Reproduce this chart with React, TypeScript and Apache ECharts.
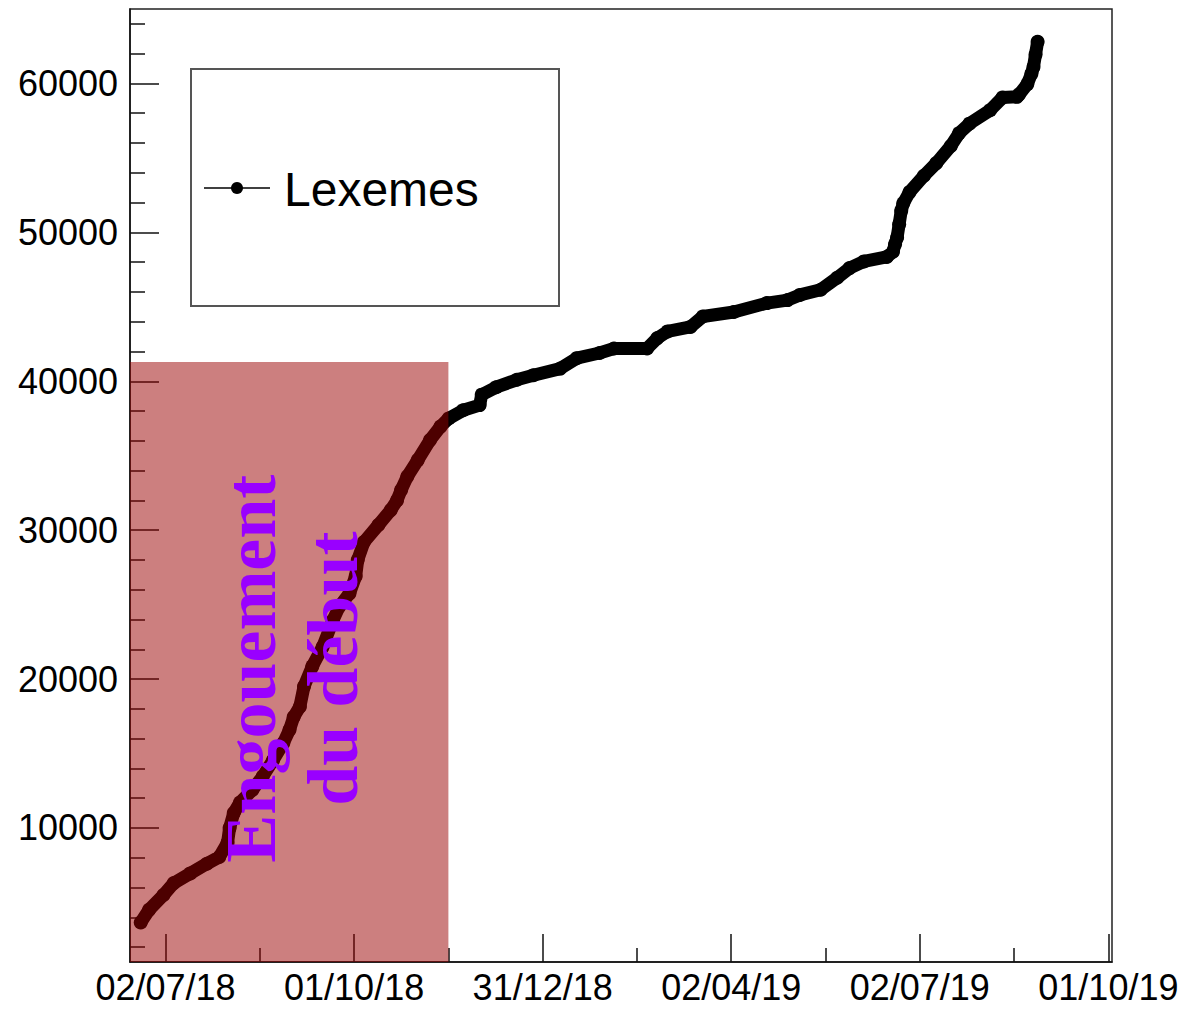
import React, { useEffect, useRef } from "react";
import * as echarts from "echarts";

// x values are days counted from 02/07/18
const dayOffsets = [
  -12, -8, -1, 4, 12, 20, 26, 30, 31, 33, 36, 42, 47, 52, 57, 60, 62, 65, 67, 71,
  76, 81, 84, 89, 92, 93, 96, 103, 109, 112, 114, 117, 122, 128, 133, 137, 144, 152, 153, 160,
  170, 178, 191, 199, 210, 217, 233, 238, 243, 254, 260, 275, 291, 301, 307, 317, 325, 331, 338, 349,
  352, 353, 354, 355, 356, 357, 360, 367, 373, 380, 384, 389, 399, 405, 412, 413, 417, 419, 420, 421, 422,
];
const lexemes = [
  3650, 4500, 5500, 6300, 6950, 7600, 8050, 9000, 10000, 11000, 11700, 12550, 13450, 14550, 15700, 16600, 17450, 18150, 19500, 20850,
  22150, 23950, 24850, 25750, 26900, 28000, 29200, 30350, 31350, 32000, 32700, 33600, 34700, 36050, 36950, 37500, 38050, 38400, 39100, 39600,
  40100, 40400, 40850, 41550, 41900, 42200, 42200, 42900, 43350, 43650, 44350, 44650, 45250, 45450, 45800, 46150, 46950, 47600, 48050, 48350,
  48700, 49200, 49650, 50550, 51450, 51950, 52700, 53800, 54650, 55800, 56650, 57300, 58200, 59050, 59100, 59250, 59950, 60650, 61100, 61950, 62800,
];

const xTickLabels = ["02/07/18", "01/10/18", "31/12/18", "02/04/19", "02/07/19", "01/10/19"];
const xMajorTicks = [0, 91.25, 182.5, 273.75, 365, 456.25];
const xMinorTicks = [45.625, 136.875, 228.125, 319.375, 410.625];
const yMajorTicks = [10000, 20000, 30000, 40000, 50000, 60000];
const yMinorTicks = [
  2000, 4000, 6000, 8000, 12000, 14000, 16000, 18000, 22000, 24000, 26000, 28000, 32000, 34000, 36000, 38000,
  42000, 44000, 46000, 48000, 52000, 54000, 56000, 58000, 62000, 64000,
];

const xMin = -17.2;
const xMax = 458;
const yMin = 1000;
const yMax = 65000;

// shaded period "Engouement du début"
const shadeFromDay = -17.2;
const shadeToDay = 136.875;
const shadeTop = 41300;
const annotationText = "Engouement\ndu début";
const annotationDay = 61.2;
const annotationValue = 20700;

const seriesName = "Lexemes";

export default function App() {
  const ref = useRef<HTMLDivElement>(null);
  useEffect(() => {
    if (!ref.current) return;
    const chart = echarts.init(ref.current, undefined, { renderer: "svg" });
    const axisColor = "#111";
    const font = "Liberation Sans";
    const baseX = {
      type: "value",
      min: xMin,
      max: xMax,
      position: "bottom",
      splitLine: { show: false },
    };
    const baseY = {
      type: "value",
      min: yMin,
      max: yMax,
      position: "left",
      splitLine: { show: false },
    };
    const option: any = {
      animation: false,
      backgroundColor: "#fff",
      grid: {
        left: 130,
        right: 71,
        top: 9,
        bottom: 50,
        show: true,
        borderColor: "#222",
        borderWidth: 1.5,
        backgroundColor: "transparent",
      },
      xAxis: [
        {
          ...baseX,
          axisLine: { onZero: false, lineStyle: { color: axisColor, width: 1.5 } },
          axisTick: { show: true, inside: true, length: 28, customValues: xMajorTicks, lineStyle: { color: axisColor, width: 1.5 } },
          axisLabel: {
            customValues: xMajorTicks,
            fontSize: 36,
            fontFamily: font,
            color: "#000",
            margin: 7,
            formatter: (v: number) => {
              const i = xMajorTicks.findIndex((m) => Math.abs(m - v) < 1e-6);
              return i >= 0 ? xTickLabels[i] : "";
            },
          },
        },
        {
          ...baseX,
          axisLine: { show: false, onZero: false },
          axisTick: { show: true, inside: true, length: 14, customValues: xMinorTicks, lineStyle: { color: axisColor, width: 1.5 } },
          axisLabel: { show: false },
        },
      ],
      yAxis: [
        {
          ...baseY,
          axisLine: { show: true, onZero: false, lineStyle: { color: axisColor, width: 1.5 } },
          axisTick: { show: true, inside: true, length: 29, customValues: yMajorTicks, lineStyle: { color: axisColor, width: 1.5 } },
          axisLabel: {
            customValues: yMajorTicks,
            fontSize: 36,
            fontFamily: font,
            color: "#000",
            margin: 12,
            formatter: (v: number) => String(Math.round(v)),
          },
        },
        {
          ...baseY,
          axisLine: { show: false, onZero: false },
          axisTick: { show: true, inside: true, length: 15, customValues: yMinorTicks, lineStyle: { color: axisColor, width: 1.5 } },
          axisLabel: { show: false },
        },
      ],
      series: [
        {
          name: seriesName,
          type: "line",
          xAxisIndex: 0,
          yAxisIndex: 0,
          data: dayOffsets.map((d, i) => [d, lexemes[i]]),
          symbol: "circle",
          symbolSize: 14,
          showSymbol: true,
          itemStyle: { color: "#000" },
          lineStyle: { color: "#000", width: 13, join: "round", cap: "round" },
          z: 2,
        },
        {
          type: "custom",
          xAxisIndex: 0,
          yAxisIndex: 0,
          z: 5,
          silent: true,
          data: [[shadeFromDay, shadeToDay, yMin, shadeTop]],
          encode: { x: [0, 1], y: [2, 3] },
          renderItem: (params: any, api: any) => {
            const tl = api.coord([api.value(0), api.value(3)]);
            const br = api.coord([api.value(1), api.value(2)]);
            return {
              type: "rect",
              shape: { x: tl[0], y: tl[1], width: br[0] - tl[0], height: br[1] - tl[1] },
              style: { fill: "rgba(153,0,0,0.5)" },
            };
          },
        },
        {
          type: "custom",
          xAxisIndex: 0,
          yAxisIndex: 0,
          z: 6,
          silent: true,
          data: [[annotationDay, annotationValue]],
          encode: { x: 0, y: 1 },
          renderItem: (params: any, api: any) => {
            const p = api.coord([api.value(0), api.value(1)]);
            return {
              type: "text",
              x: p[0],
              y: p[1],
              rotation: Math.PI / 2,
              style: {
                text: annotationText,
                fill: "#9900ff",
                fontFamily: "Liberation Serif",
                fontWeight: "bold",
                fontSize: 72,
                lineHeight: 82,
                align: "center",
                verticalAlign: "middle",
              },
            };
          },
        },
      ],
      graphic: [
        {
          type: "group",
          z: 100,
          children: [
            {
              type: "rect",
              shape: { x: 191, y: 69, width: 368, height: 237 },
              style: { fill: "#fff", stroke: "#555", lineWidth: 2 },
            },
            {
              type: "line",
              shape: { x1: 204, y1: 188, x2: 270, y2: 188 },
              style: { stroke: "#000", lineWidth: 1.5 },
            },
            {
              type: "circle",
              shape: { cx: 237, cy: 188, r: 6 },
              style: { fill: "#000" },
            },
            {
              type: "text",
              x: 284,
              y: 189,
              style: {
                text: seriesName,
                fill: "#000",
                fontFamily: font,
                fontSize: 48,
                align: "left",
                verticalAlign: "middle",
              },
            },
          ],
        },
      ],
    };
    chart.setOption(option);
    return () => chart.dispose();
  }, []);
  return (
    <div
      ref={ref}
      style={{ position: "fixed", left: 0, top: 0, width: 1183, height: 1012 }}
    />
  );
}
